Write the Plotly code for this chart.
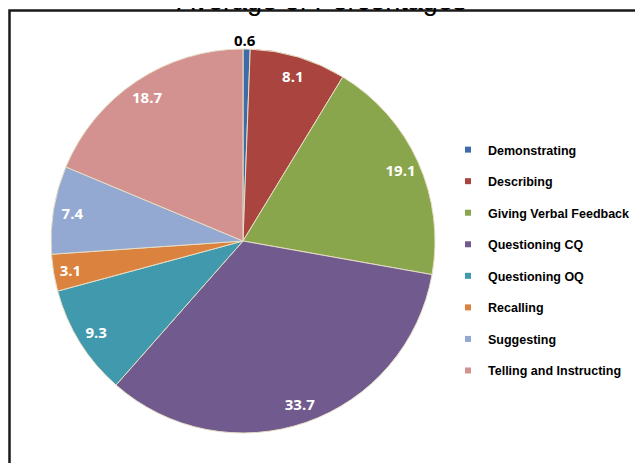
import math
import plotly.graph_objects as go

categories = ["Demonstrating", "Describing", "Giving Verbal Feedback", "Questioning CQ",
              "Questioning OQ", "Recalling", "Suggesting", "Telling and Instructing"]
percentages = [0.6, 8.1, 19.1, 33.7, 9.3, 3.1, 7.4, 18.7]
colors = ["#3F6CA8", "#A9443F", "#8AA64C", "#715A8E", "#4199AE", "#DA823E", "#93A9D1", "#D39290"]

# figure size kept inside the window (page has an 8px body margin)
W, H = 627, 455
cx, cy, r = 235, 233, 192  # pie centre / radius in figure px

dom_x = [(cx - r) / W, (cx + r) / W]
dom_y = [(H - cy - r) / H, (H - cy + r) / H]

fig = go.Figure()

# the pie itself
fig.add_trace(go.Pie(
    labels=categories, values=percentages, sort=False, direction="clockwise",
    marker=dict(colors=colors, line=dict(color="#E6DEC6", width=1)),
    textinfo="none", showlegend=False, hoverinfo="label+value",
    domain=dict(x=dom_x, y=dom_y),
))

# transparent ring on top only for the labels (puts them near the rim)
fig.add_trace(go.Pie(
    labels=categories, values=percentages, sort=False, direction="clockwise", hole=0.8,
    marker=dict(colors=["rgba(0,0,0,0)"] * len(categories), line=dict(width=0)),
    textinfo="value", textposition=["none"] + ["inside"] * 7,
    insidetextorientation="horizontal",
    insidetextfont=dict(family="Open Sans", size=15, color="white", weight="bold"),
    showlegend=False, hoverinfo="skip",
    domain=dict(x=dom_x, y=dom_y),
))

# tiny first slice: label centred just above the rim
mid = percentages[0] / 2 / sum(percentages) * 2 * math.pi
lx = cx + (r + 9) * math.sin(mid)
ly = cy - (r + 9) * math.cos(mid)
fig.add_annotation(
    text=str(percentages[0]), xref="paper", yref="paper", x=lx / W - 2 / W, y=1 - ly / H,
    xanchor="center", yanchor="middle", showarrow=False,
    font=dict(family="Open Sans", size=15, color="black", weight="bold"),
)

# legend entries
for name, c in zip(categories, colors):
    fig.add_trace(go.Scatter(
        x=[None], y=[None], mode="markers", name=name, legendgroup=name,
        marker=dict(symbol="square", size=6, color=c),
    ))

fig.update_xaxes(visible=False)
fig.update_yaxes(visible=False)

fig.add_annotation(
    text="Average of Percentages", xref="paper", yref="paper", x=0.5, y=1 + 7.5 / H,
    xanchor="center", yanchor="middle", showarrow=False,
    font=dict(family="Liberation Sans", size=27, color="black"),
)

# chart frame (left and top edges visible)
fig.add_shape(type="rect", xref="paper", yref="paper",
              x0=1.5 / W, x1=1.1, y0=-0.1, y1=1 - 2.5 / H,
              line=dict(color="#1a1a1a", width=2.5))

fig.update_layout(
    width=W, height=H,
    margin=dict(l=0, r=0, t=0, b=0, autoexpand=False),
    paper_bgcolor="white", plot_bgcolor="white",
    legend=dict(
        x=440 / W, y=1 - 127 / H, xanchor="left", yanchor="top",
        font=dict(family="Liberation Sans", size=12.5, color="black", weight="bold"),
        tracegroupgap=12.3, bgcolor="rgba(0,0,0,0)",
    ),
)

fig.write_html("out.html")
